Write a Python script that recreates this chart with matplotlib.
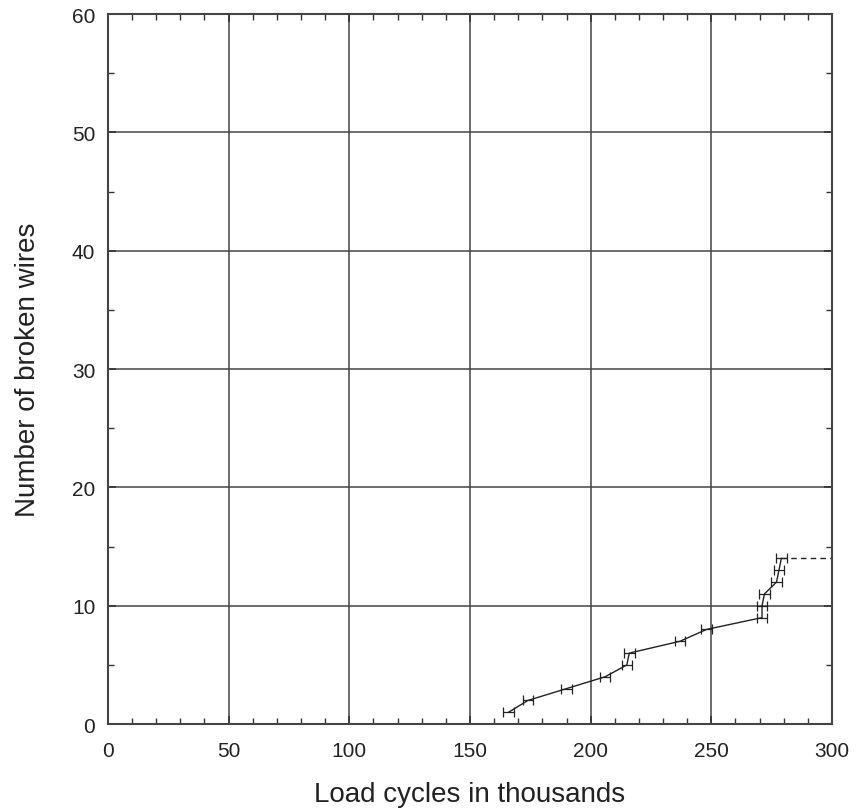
import numpy as np
import matplotlib.pyplot as plt
from matplotlib.ticker import MultipleLocator

plt.rcParams['font.family'] = ['Liberation Sans', 'DejaVu Sans']

# broken wires vs load cycles (thousands)
cycles = [166, 174, 190, 206, 215, 216, 237, 248, 271, 271, 272, 277, 278, 279]
wires = [1, 2, 3, 4, 5, 6, 7, 8, 9, 10, 11, 12, 13, 14]
tail_x = [279, 300]
tail_y = [14, 14]

fig = plt.figure(figsize=(8.56, 8.12), dpi=100)
ax = fig.add_axes([0.126, 0.107, 0.846, 0.8745])

ax.plot(cycles, wires, '-', color='#222222', linewidth=1.0)
ax.errorbar(cycles, wires, xerr=2.2, fmt='none', ecolor='#222222',
            elinewidth=0.9, capsize=3.5, capthick=0.9)
ax.plot(tail_x, tail_y, '--', color='#222222', linewidth=1.0, dashes=(4, 3))

ax.set_xlim(0, 300)
ax.set_ylim(0, 60)
ax.xaxis.set_major_locator(MultipleLocator(50))
ax.xaxis.set_minor_locator(MultipleLocator(10))
ax.yaxis.set_major_locator(MultipleLocator(10))
ax.yaxis.set_minor_locator(MultipleLocator(5))
ax.grid(True, which='major', color='#444444', linewidth=1.1)
ax.tick_params(which='both', direction='in', top=True, right=True,
               color='#333333', labelsize=15, labelcolor='#222222')
ax.tick_params(which='major', length=6, width=1.2, pad=9)
ax.tick_params(axis='x', which='major', pad=12)
ax.tick_params(which='minor', length=4, width=1.0)
for s in ax.spines.values():
    s.set_color('#444444')
    s.set_linewidth(1.5)

ax.set_xlabel('Load cycles in thousands', fontsize=20, color='#222222', labelpad=15)
ax.set_ylabel('Number of broken wires', fontsize=20, color='#222222', labelpad=22)

fig.savefig('out.png', dpi=100)
